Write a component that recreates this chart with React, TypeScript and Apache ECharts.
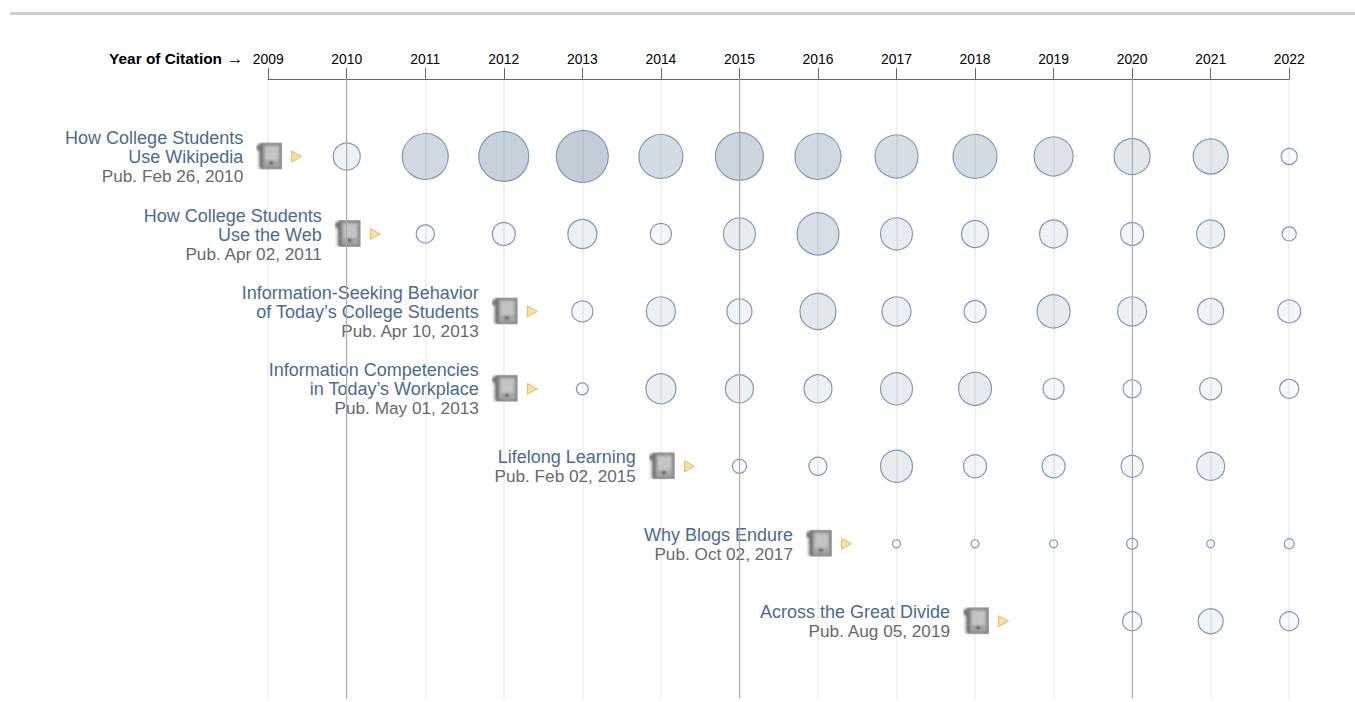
import React, { useEffect, useRef } from "react";
import * as echarts from "echarts";

const years = [2009, 2010, 2011, 2012, 2013, 2014, 2015, 2016, 2017, 2018, 2019, 2020, 2021, 2022];
const markedYears = [2010, 2015, 2020];

const titles = [
  ["How College Students", "Use Wikipedia"],
  ["How College Students", "Use the Web"],
  ["Information-Seeking Behavior", "of Today\u2019s College Students"],
  ["Information Competencies", "in Today\u2019s Workplace"],
  ["Lifelong Learning"],
  ["Why Blogs Endure"],
  ["Across the Great Divide"],
];
const published = [
  "Pub. Feb 26, 2010",
  "Pub. Apr 02, 2011",
  "Pub. Apr 10, 2013",
  "Pub. May 01, 2013",
  "Pub. Feb 02, 2015",
  "Pub. Oct 02, 2017",
  "Pub. Aug 05, 2019",
];
const anchorYears = [2009, 2010, 2012, 2012, 2014, 2016, 2018];

// circle diameters per year, 2009..2022
const _ = null;
const row1 = [_, 27, 46, 50, 52, 44, 48, 46, 43, 44, 39, 36, 35, 16];
const row2 = [_, _, 18, 23, 29, 21, 32, 42, 32, 27, 28, 23, 28, 14];
const row3 = [_, _, _, _, 21, 29, 25, 36, 29, 22, 33, 29, 26, 23];
const row4 = [_, _, _, _, 12, 30, 28, 28, 32, 33, 21, 18, 22, 19];
const row5 = [_, _, _, _, _, _, 14, 18, 32, 23, 23, 22, 28, _];
const row6 = [_, _, _, _, _, _, _, _, 8, 8, 8, 11, 8, 10];
const row7 = [_, _, _, _, _, _, _, _, _, _, _, 19, 25, 19];
const rows = [row1, row2, row3, row4, row5, row6, row7];

const FONT = '"Liberation Sans", Arial, sans-serif';

const iconSvg =
  '<svg xmlns="http://www.w3.org/2000/svg" width="26" height="27" viewBox="0 0 26 27">' +
  '<defs><filter id="b" x="-20%" y="-20%" width="140%" height="140%"><feGaussianBlur stdDeviation="1"/></filter></defs>' +
  '<rect width="26" height="27" fill="#f2f2f2"/>' +
  '<g filter="url(#b)">' +
  '<path d="M5 0H26V27H5L3 25V9L0 6V4Z" fill="#767676"/>' +
  '<rect x="7" y="2" width="17" height="23" rx="1" fill="#a4a4a4"/>' +
  '<rect x="9" y="4" width="13" height="14" fill="#c4c4c4"/>' +
  '<rect x="13.5" y="19" width="3" height="3" fill="#3f3f3f"/>' +
  "</g></svg>";
const iconUrl = "data:image/svg+xml;charset=utf-8," + encodeURIComponent(iconSvg);

export default function App() {
  const ref = useRef<HTMLDivElement>(null);

  useEffect(() => {
    document.body.style.margin = "0";
    const chart = echarts.init(ref.current!, null, { renderer: "svg" });

    const points: number[][] = [];
    rows.forEach((row, r) =>
      row.forEach((d, i) => {
        if (d != null) points.push([years[i], r, d]);
      })
    );

    const renderLabel = (params: any, api: any) => {
      const idx = params.dataIndex;
      const c = api.coord([api.value(0), api.value(1)]);
      const right = c[0] - 25;
      const lines = titles[idx];
      const total = lines.length + 1;
      const children: any[] = [];
      const lineStep = 19;
      const startY = c[1] - ((total - 1) * lineStep) / 2 + 0.6;
      lines.forEach((t, i) => {
        children.push({
          type: "text",
          x: right,
          y: startY + i * lineStep,
          style: {
            text: t,
            fill: "#4a6b92",
            fontSize: 18,
            fontFamily: FONT,
            align: "right",
            verticalAlign: "middle",
          },
        });
      });
      children.push({
        type: "text",
        x: right,
        y: startY + lines.length * lineStep,
        style: {
          text: published[idx],
          fill: "#696969",
          fontSize: 17.2,
          fontFamily: FONT,
          align: "right",
          verticalAlign: "middle",
        },
      });
      children.push({
        type: "image",
        style: { image: iconUrl, x: c[0] - 12, y: c[1] - 14, width: 26, height: 27 },
      });
      children.push({
        type: "polygon",
        shape: {
          points: [
            [c[0] + 23.5, c[1] - 5.5],
            [c[0] + 33.5, c[1]],
            [c[0] + 23.5, c[1] + 5.5],
          ],
        },
        style: { fill: "#f5dfa3", stroke: "#e5bd5f", lineWidth: 1 },
      });
      return { type: "group", children };
    };

    chart.setOption({
      animation: false,
      grid: { left: 268.2, width: 1021, top: 79, height: 619.7 },
      xAxis: {
        type: "value",
        position: "top",
        min: 2009,
        max: 2022,
        interval: 1,
        axisLine: { show: true, onZero: false, lineStyle: { color: "#666666", width: 1 } },
        axisTick: { show: true, length: 11, inside: false, lineStyle: { color: "#666666", width: 1 } },
        axisLabel: {
          show: true,
          margin: 13,
          color: "#000000",
          fontSize: 13.9,
          fontFamily: FONT,
          formatter: (v: number) => String(v),
        },
        splitLine: { show: true, lineStyle: { color: "#ececec", width: 1.5 } },
      },
      yAxis: { type: "value", inverse: true, min: -1, max: 7, show: false, splitLine: { show: false } },
      graphic: [
        {
          type: "rect",
          z: 10,
          shape: { x: 10, y: 12, width: 1345, height: 3 },
          style: { fill: "#d0d0d0" },
        },
        {
          type: "text",
          x: 222,
          y: 58,
          style: {
            text: "Year of Citation",
            fill: "#000000",
            fontSize: 15.4,
            fontWeight: "bold",
            fontFamily: FONT,
            align: "right",
            verticalAlign: "middle",
          },
        },
        {
          type: "text",
          x: 243.5,
          y: 58,
          style: {
            text: "\u2192",
            fill: "#000000",
            fontSize: 17,
            fontFamily: FONT,
            align: "right",
            verticalAlign: "middle",
          },
        },
      ],
      series: [
        {
          type: "scatter",
          data: points,
          symbol: "circle",
          symbolSize: (v: number[]) => v[2],
          itemStyle: {
            color: (p: any) => `rgba(60,95,130,${(0.31 * Math.pow(p.value[2] / 52, 2)).toFixed(3)})`,
            borderColor: "#7f99b5",
            borderWidth: 1.2,
            opacity: 1,
          },
          markLine: {
            silent: true,
            symbol: "none",
            label: { show: false },
            lineStyle: { color: "#ababab", width: 1, type: "solid" },
            data: markedYears.map((y) => ({ xAxis: y })),
          },
          z: 3,
        },
        {
          type: "custom",
          data: anchorYears.map((y, i) => [y, i]),
          encode: { x: 0, y: 1 },
          clip: false,
          silent: true,
          renderItem: renderLabel,
          z: 2,
        },
      ],
    });
    return () => chart.dispose();
  }, []);

  return <div ref={ref} style={{ width: 1355, height: 702 }} />;
}
